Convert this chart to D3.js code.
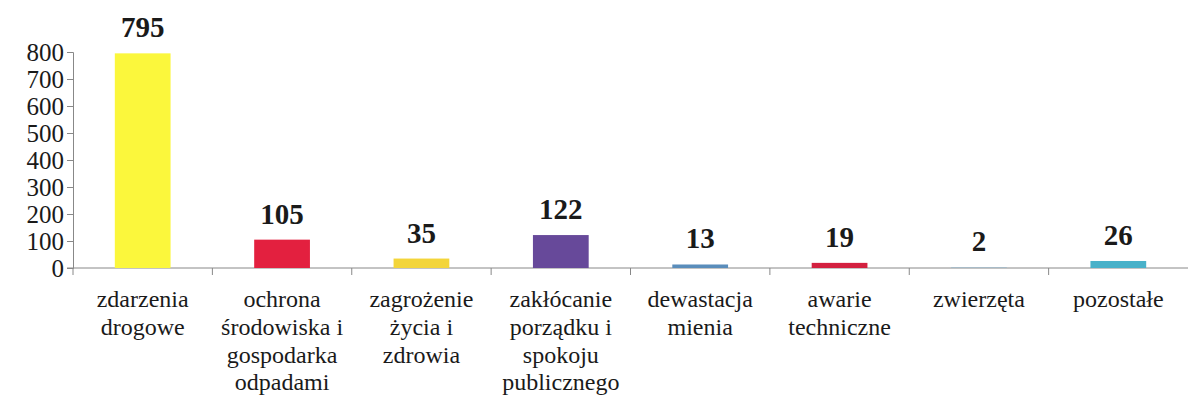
<!DOCTYPE html>
<html>
<head>
<meta charset="utf-8">
<script src="https://cdn.jsdelivr.net/npm/d3@7"></script>
<style>
  body { margin: 0; background: #fff; }
</style>
</head>
<body>
<script>
// data
const categories = [
  ["zdarzenia", "drogowe"],
  ["ochrona", "środowiska i", "gospodarka", "odpadami"],
  ["zagrożenie", "życia i", "zdrowia"],
  ["zakłócanie", "porządku i", "spokoju", "publicznego"],
  ["dewastacja", "mienia"],
  ["awarie", "techniczne"],
  ["zwierzęta"],
  ["pozostałe"]
];
const values = [795, 105, 35, 122, 13, 19, 2, 26];
const colors = ["#fbf73c", "#e3203f", "#f3d53a", "#67499a", "#5a8dbb", "#d3203f", "#8fb3c9", "#48b1c9"];
const yTicks = [0, 100, 200, 300, 400, 500, 600, 700, 800];

const serif = "'Liberation Serif', 'Times New Roman', 'DejaVu Serif', serif";
const width = 1190, height = 403;
const margin = {left: 73, right: 2, top: 52, bottom: 135};

const svg = d3.select("body").append("svg")
  .attr("width", width)
  .attr("height", height)
  .style("font-family", serif);

const x = d3.scaleBand()
  .domain(d3.range(categories.length))
  .range([margin.left, width - margin.right])
  .paddingInner(0.6)
  .paddingOuter(0.3);

const y = d3.scaleLinear()
  .domain([0, 800])
  .range([height - margin.bottom, margin.top]);

// y axis
const yAxis = svg.append("g")
  .attr("transform", `translate(${margin.left},0)`)
  .call(d3.axisLeft(y).tickValues(yTicks).tickSize(6).tickPadding(3));
yAxis.attr("font-family", null);
yAxis.selectAll("line, path").attr("stroke", "#888");
yAxis.selectAll("text")
  .style("font-family", serif)
  .style("font-size", "25px")
  .attr("fill", "#1a1a1a");

// x axis line and category tick marks at band edges
const x0 = y(0);
svg.append("line")
  .attr("x1", margin.left - 6).attr("x2", width - margin.right)
  .attr("y1", x0).attr("y2", x0)
  .attr("stroke", "#888");

const gap = (x.step() - x.bandwidth()) / 2;
svg.append("g").selectAll("line")
  .data(d3.range(categories.length))
  .join("line")
  .attr("x1", i => x(i) - gap)
  .attr("x2", i => x(i) - gap)
  .attr("y1", x0).attr("y2", x0 + 7)
  .attr("stroke", "#888");

// bars
svg.append("g").selectAll("rect")
  .data(values)
  .join("rect")
  .attr("x", (d, i) => x(i))
  .attr("width", x.bandwidth())
  .attr("y", d => y(d))
  .attr("height", d => x0 - y(d))
  .attr("fill", (d, i) => colors[i]);

// value labels
svg.append("g").selectAll("text")
  .data(values)
  .join("text")
  .attr("x", (d, i) => x(i) + x.bandwidth() / 2)
  .attr("y", d => y(d) - 16)
  .attr("text-anchor", "middle")
  .style("font-family", serif)
  .style("font-size", "29px")
  .style("font-weight", "bold")
  .attr("fill", "#1a1a1a")
  .text(d => d);

// category labels
const cat = svg.append("g").selectAll("text")
  .data(categories)
  .join("text")
  .attr("x", (d, i) => x(i) + x.bandwidth() / 2)
  .attr("y", x0 + 39)
  .attr("text-anchor", "middle")
  .style("font-family", serif)
  .style("font-size", "24px")
  .attr("fill", "#1a1a1a");
cat.selectAll("tspan")
  .data(d => d)
  .join("tspan")
  .attr("x", function() { return this.parentNode.getAttribute("x"); })
  .attr("dy", (d, i) => i === 0 ? 0 : 27.8)
  .text(d => d);
</script>
</body>
</html>
